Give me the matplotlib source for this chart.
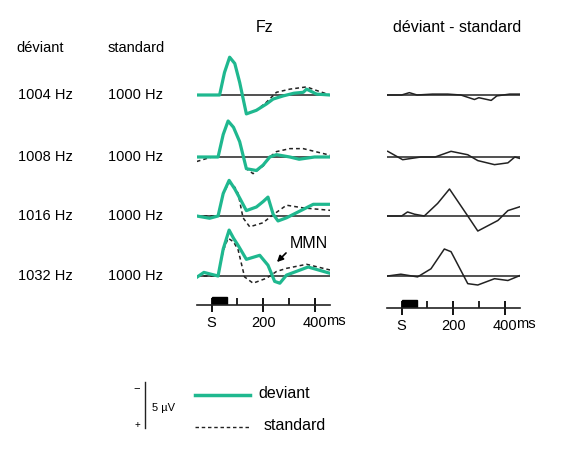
import matplotlib
matplotlib.use("Agg")
import matplotlib.pyplot as plt
from matplotlib.patches import Rectangle

plt.rcParams['font.family'] = ['Liberation Sans', 'DejaVu Sans']

rows = ["1004 Hz", "1008 Hz", "1016 Hz", "1032 Hz"]
std_label = "1000 Hz"

# times (ms) and amplitudes (µV, negative = up)
dev_t = [
    [-58, 0, 31, 50, 70, 90, 109, 135, 174, 213, 239, 278, 320, 356, 369, 408, 460],
    [-58, 0, 25, 45, 64, 85, 109, 135, 174, 200, 226, 252, 304, 340, 400, 460],
    [-58, -8, 25, 45, 68, 90, 109, 135, 174, 200, 219, 239, 258, 291, 343, 395, 460],
    [-58, -30, 25, 45, 68, 85, 103, 135, 187, 219, 245, 265, 291, 375, 460],
]
dev_v = [
    [0, 0, 0, -2.5, -4.2, -3.5, -1.4, 2.1, 1.7, 1.0, 0.45, 0.1, -0.2, -0.3, -0.65, -0.1, 0],
    [0, 0, 0, -2.5, -4.0, -3.3, -1.7, 1.3, 1.5, 0.9, 0, -0.26, 0, 0.25, 0, 0],
    [0, 0.25, 0, -2.5, -3.96, -3.0, -2.0, -0.6, -1.0, -1.6, -2.1, -0.2, 0.55, 0.2, -0.55, -1.3, -1.3],
    [0.15, -0.4, 0, -3.0, -5.1, -4.2, -3.4, -1.85, -2.3, -1.2, 0.6, 0.8, -0.1, -1.0, -0.3],
]
std_t = [
    [-58, 0, 31, 50, 70, 90, 109, 135, 174, 213, 252, 304, 369, 408, 460],
    [-58, 0, 25, 45, 64, 85, 109, 135, 161, 200, 226, 252, 304, 356, 460],
    [-58, 0, 25, 45, 68, 90, 103, 122, 148, 200, 232, 291, 356, 460],
    [-58, 0, 25, 45, 64, 85, 103, 128, 161, 213, 252, 291, 369, 460],
]
std_v = [
    [0, 0, 0, -2.5, -4.2, -3.5, -1.4, 2.1, 1.7, 0.8, -0.3, -0.65, -0.9, -0.5, 0],
    [0.5, 0, 0, -2.5, -4.0, -3.3, -1.7, 1.3, 1.85, 1.0, 0, -0.6, -0.93, -0.93, -0.2],
    [0, 0, 0, -2.5, -3.7, -3.2, -2.5, 0.2, 1.2, 0.75, 0, -1.2, -0.9, -0.63],
    [0, 0, 0, -2.8, -4.2, -3.8, -2.9, 0.1, 0.8, 0.25, -0.5, -0.85, -1.3, -0.67],
]
diff_t = [
    [-54, 0, 30, 60, 120, 179, 230, 283, 300, 348, 370, 420, 464],
    [-54, 4, 75, 130, 192, 257, 296, 361, 413, 440, 464],
    [-54, 0, 23, 50, 88, 140, 186, 257, 296, 374, 413, 464],
    [-54, -3, 62, 114, 166, 192, 257, 296, 361, 413, 464],
]
diff_v = [
    [0, 0, -0.26, 0, -0.1, -0.1, 0, 0.5, 0.3, 0.6, 0.1, -0.1, -0.1],
    [-0.63, 0.3, 0, 0, -0.63, -0.25, 0.4, 0.85, 0.65, 0, 0.2],
    [0, 0, -0.45, -0.2, 0, -1.4, -3.0, 0, 1.67, 0.5, -0.6, -1.07],
    [0, -0.2, 0.1, -0.8, -3.0, -2.7, 0.85, 1.0, 0.3, 0.5, -0.1],
]
time_ticks = [0, 200, 400]
time_labels = ["S", "200", "400"]

GREEN = "#1fb88f"
W, H = 577, 459
fig = plt.figure(figsize=(W / 100, H / 100), dpi=100)
PX_UV = 9.0
XMIN, XMAX = -58, 460
row_y = [95, 157, 216, 276]
fz_x0, fz_x1 = 196.7, 330.0
df_x0, df_x1 = 386.7, 520.0


def make_ax(x0, x1, yb, top=5.5, bot=3.0):
    b = (H - (yb + bot * PX_UV)) / H
    h = (top + bot) * PX_UV / H
    ax = fig.add_axes([x0 / W, b, (x1 - x0) / W, h])
    ax.set_xlim(XMIN, XMAX)
    ax.set_ylim(bot, -top)
    ax.axis("off")
    ax.patch.set_alpha(0)
    return ax


for i in range(4):
    ax = make_ax(fz_x0, fz_x1, row_y[i])
    ax.axhline(0, color="#222222", lw=1.1)
    ax.plot(std_t[i], std_v[i], color="#222222", lw=1.1, ls=(0, (2.5, 2)))
    ax.plot(dev_t[i], dev_v[i], color=GREEN, lw=2.3)
    ax2 = make_ax(df_x0, df_x1, row_y[i])
    ax2.axhline(0, color="#222222", lw=1.1)
    ax2.plot(diff_t[i], diff_v[i], color="#222222", lw=1.1)
    fig.text(45 / W, 1 - row_y[i] / H, rows[i], ha="center", va="center", fontsize=10.5)
    fig.text(136 / W, 1 - row_y[i] / H, std_label, ha="center", va="center", fontsize=10.5)

# time axes
for x0, x1, ya in [(fz_x0, fz_x1, 305), (df_x0, df_x1, 308)]:
    ta = fig.add_axes([x0 / W, (H - ya) / H, (x1 - x0) / W, 12 / H])
    ta.set_xlim(XMIN, XMAX)
    ta.set_ylim(0, 1)
    ta.patch.set_alpha(0)
    for s in ["top", "left", "right"]:
        ta.spines[s].set_visible(False)
    ta.spines["bottom"].set_color("#222222")
    ta.spines["bottom"].set_linewidth(1.2)
    ta.set_yticks([])
    ta.set_xticks(time_ticks)
    ta.set_xticklabels(time_labels, fontsize=10.5)
    ta.set_xticks([100, 300], minor=True)
    ta.tick_params(axis="x", which="major", direction="inout", length=10, width=1.3, pad=3)
    ta.tick_params(axis="x", which="minor", direction="in", length=5, width=1.2)
    ta.add_patch(Rectangle((0, 0), 58, 0.7, color="black"))
    ta.text(445, -0.75, "ms", ha="left", va="top", fontsize=10.5,
            transform=ta.transData)

fig.text(265 / W, 1 - 28 / H, "Fz", ha="center", va="center", fontsize=11.5)
fig.text(457 / W, 1 - 28 / H, "déviant - standard", ha="center", va="center", fontsize=11.5)
fig.text(40 / W, 1 - 48 / H, "déviant", ha="center", va="center", fontsize=10.5)
fig.text(136 / W, 1 - 48 / H, "standard", ha="center", va="center", fontsize=10.5)

fig.text(290 / W, 1 - 243 / H, "MMN", ha="left", va="center", fontsize=11.5)
fig.add_artist(matplotlib.patches.FancyArrowPatch(
    (288 / W, 1 - 251 / H), (275 / W, 1 - 264 / H), transform=fig.transFigure,
    arrowstyle="-|>", mutation_scale=9, color="black", lw=1.2))

# legend / scale bar
leg = fig.add_axes([0, 0, 1, 1])
leg.set_xlim(0, W)
leg.set_ylim(H, 0)
leg.axis("off")
leg.patch.set_alpha(0)
leg.plot([145, 145], [382, 428], color="#222222", lw=1)
leg.text(137, 388, "−", ha="center", va="center", fontsize=8)
leg.text(137, 425, "+", ha="center", va="center", fontsize=7)
leg.text(152, 408, "5 µV", ha="left", va="center", fontsize=8)
leg.plot([195, 250], [395, 395], color=GREEN, lw=2.5)
leg.text(258, 394, "deviant", ha="left", va="center", fontsize=11.5)
leg.plot([195, 250], [427, 427], color="#222222", lw=1, ls=(0, (2.5, 2)))
leg.text(264, 425, "standard", ha="left", va="center", fontsize=11.5)

fig.savefig("out.png", dpi=100)
